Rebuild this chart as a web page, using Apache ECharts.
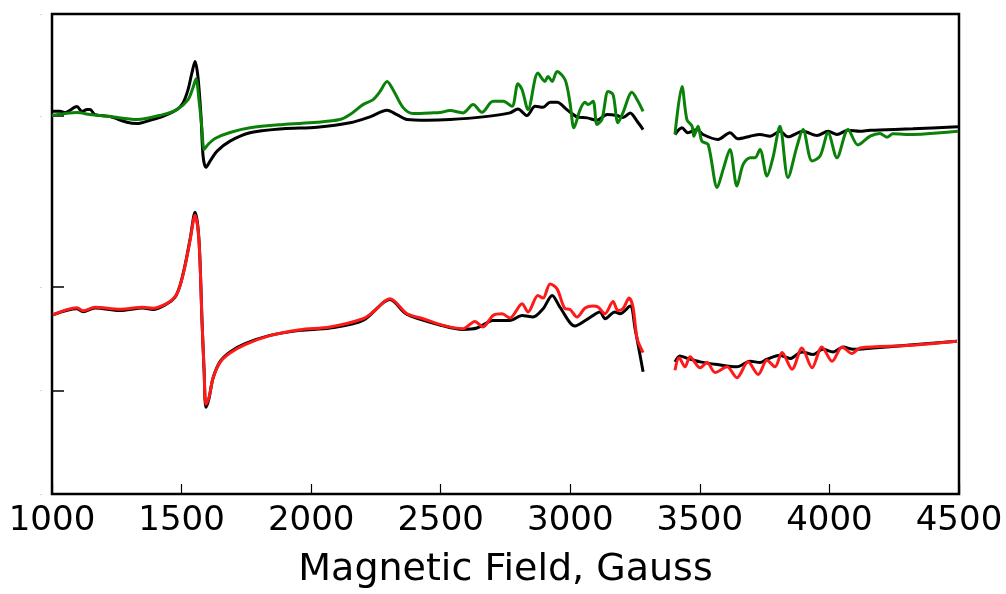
<!DOCTYPE html>
<html>
<head>
<meta charset="utf-8">
<script src="https://cdn.jsdelivr.net/npm/echarts@6/dist/echarts.min.js"></script>
<style>html,body{margin:0;padding:0;background:#fff}#c{width:1006px;height:594px}</style>
</head>
<body>
<div id="c"></div>
<script>
// X tick labels (Gauss)
const xTicks = [1000, 1500, 2000, 2500, 3000, 3500, 4000, 4500];
// Y tick positions (arbitrary intensity units, unlabeled in the original)
const yTicks = [0, 104, 208, 380, 482];

// Upper pair: black (reference) and green
const topBlack = [
[1000,384.3],[1031,384.3],[1050,383],[1096,389],[1116,384],[1135,386],[1147,386],[1166,381],[1224,379],[1289,373.3],[1328,372],[1378,375.3],[1428,379.3],[1482,386],[1506,393],[1525,406],[1540,423],[1552,434.3],[1563,419.3],[1575,379.3],[1583,339.3],[1594,328],[1610,334.3],[1637,344.3],[1687,354.3],[1764,362.7],[1891,366.7],[2023,368.3],[2150,372.7],[2227,378.7],[2293,385.3],[2331,381],[2370,376],[2447,375.3],[2536,376],[2663,378.7],[2767,382.7],[2798,386.7],[2833,380],[2864,389.3],[2895,388.3],[2922,393.3],[2949,393.3],[2987,386],[3026,378.7],[3065,377.7],[3103,375.3],[3142,381],[3180,380],[3203,378],[3231,382.7],[3258,374.3],[3281,366],
[3340,null],
[3404,361],[3431,367.7],[3454,362.7],[3489,366],[3512,361],[3570,356],[3616,362.7],[3647,356.7],[3694,359.3],[3732,361],[3771,359.3],[3809,364.3],[3840,358.7],[3898,364.3],[3952,360],[3995,364.3],[4029,361],[4072,365.3],[4118,364.3],[4157,365.3],[4322,366.7],[4496,368.7]
];
const topGreen = [
[1000,380],[1096,383],[1147,381],[1224,379],[1328,376],[1428,381],[1482,386],[1525,396],[1544,408],[1556,417],[1567,396],[1579,366],[1587,346],[1602,351],[1629,357],[1687,363],[1764,367.7],[1891,371],[2023,373.3],[2111,376],[2150,381],[2200,391],[2239,396],[2266,404.3],[2293,414.3],[2316,406],[2355,388],[2393,382],[2459,382.7],[2497,383],[2536,385],[2586,382.7],[2625,391],[2659,383.3],[2702,394.3],[2741,394.3],[2775,389.3],[2798,412],[2814,406],[2837,386],[2875,422.7],[2902,414.3],[2914,419.3],[2930,414.3],[2949,424.3],[2980,416],[2999,392.7],[3014,367.7],[3038,386],[3057,393.3],[3068,391],[3088,394.3],[3103,371],[3122,376],[3146,404.3],[3165,401],[3184,372.7],[3203,382.7],[3238,403.3],[3258,396],[3281,384.3],
[3340,null],
[3404,361],[3431,409.3],[3450,376],[3470,369.3],[3477,359.3],[3493,369.3],[3508,354.3],[3532,351],[3567,307.7],[3590,326],[3616,346],[3643,309.3],[3667,331],[3694,337.7],[3713,337.7],[3732,346],[3759,319.3],[3782,337.7],[3809,369.3],[3840,317.7],[3875,349.3],[3898,366],[3933,334.3],[3964,339.3],[3995,362.7],[4029,337.7],[4072,366],[4110,350.5],[4157,359.3],[4195,362],[4222,358.3],[4245,361.7],[4322,361],[4427,362.7],[4496,364.3]
];

// Lower pair: black (reference) and red
const bottomBlack = [
[1004,180],[1096,186],[1120,183],[1166,186.7],[1262,184.3],[1351,186.7],[1390,185.3],[1444,191],[1475,197.7],[1494,209.3],[1513,229.3],[1533,256],[1552,283],[1567,256],[1579,173],[1587,123],[1594,87],[1606,96],[1621,116],[1648,132.7],[1687,142.7],[1745,151],[1841,159.3],[1957,164.3],[2073,166.7],[2200,174.3],[2304,195.3],[2370,180.3],[2509,169],[2586,165.3],[2640,166.7],[2702,174.3],[2767,174.3],[2814,179.3],[2856,177.7],[2895,186],[2930,199.3],[2960,187.7],[3018,168.7],[3065,175.3],[3115,182.7],[3134,176],[3172,182.7],[3192,181],[3231,188.7],[3250,166],[3281,122.7],
[3340,null],
[3404,132.7],[3423,138.7],[3454,136],[3501,132.7],[3567,130],[3643,127.7],[3694,133.3],[3732,132],[3759,135.3],[3809,139.3],[3848,136],[3894,142.7],[3937,140],[3975,145.3],[4014,142.7],[4053,147.7],[4091,145.3],[4168,146.7],[4299,149.3],[4492,153.3]
];
const bottomRed = [
[1004,180],[1096,187],[1120,184],[1166,187.5],[1262,185.5],[1351,187.5],[1390,186.5],[1444,191.5],[1475,198],[1494,209],[1513,228.5],[1533,255],[1552,280],[1567,255],[1579,173],[1587,124],[1594,90],[1606,97],[1621,116],[1648,132],[1687,141.5],[1745,150],[1841,159],[1957,165],[2073,167.7],[2200,176],[2239,182.7],[2304,196],[2370,181],[2432,176],[2509,169.3],[2586,166],[2632,173.3],[2663,167.7],[2702,179.3],[2737,181],[2767,176.7],[2814,191],[2837,182.7],[2875,199.3],[2895,196.7],[2922,211],[2949,206],[2980,186],[2999,185.3],[3026,177.7],[3057,186.7],[3088,188.7],[3107,187.7],[3134,181],[3165,193.3],[3184,184.3],[3203,186],[3227,196.7],[3242,187.7],[3258,156],[3281,142],
[3340,null],
[3404,124.3],[3420,136.7],[3443,127.7],[3462,137.7],[3501,126.7],[3528,132],[3559,122],[3605,127.7],[3643,116.7],[3686,132.7],[3725,120],[3759,134.3],[3790,127.7],[3817,142],[3856,125.3],[3894,146.7],[3933,126.7],[3971,147.7],[4010,133.3],[4049,147.7],[4087,141],[4118,146.7],[4299,149],[4492,153.3]
];

const chart = echarts.init(document.getElementById('c'), null, {renderer: 'canvas'});
const font = 'DejaVu Sans';
function line(name, data, color, z) {
  return {
    name: name, type: 'line', data: data, showSymbol: false, symbol: 'none',
    smooth: 0.3, connectNulls: false, z: z, animation: false,
    lineStyle: {color: color, width: 3}
  };
}
chart.setOption({
  animation: false,
  backgroundColor: '#ffffff',
  grid: {left: 52, right: 47, top: 14, bottom: 98, show: true, borderColor: '#000', borderWidth: 2.5, backgroundColor: 'transparent'},
  xAxis: {
    type: 'value', min: 1000, max: 4500, interval: 500,
    name: 'Magnetic Field, Gauss', nameLocation: 'middle', nameGap: 57,
    nameTextStyle: {fontFamily: font, fontSize: 38, color: '#000'},
    axisLine: {show: false},
    axisTick: {show: true, inside: true, length: 10, lineStyle: {color: '#000', width: 1.2}},
    axisLabel: {fontFamily: font, fontSize: 34, color: '#000', margin: 10,
      customValues: xTicks, formatter: v => String(v)},
    splitLine: {show: false}
  },
  yAxis: {
    type: 'value', min: 0, max: 482,
    axisLine: {show: false},
    axisTick: {show: true, inside: true, length: 12, customValues: yTicks, lineStyle: {color: '#000', width: 1.5}},
    axisLabel: {show: true, customValues: yTicks, formatter: () => '-', fontSize: 7, color: '#aaa', margin: 10},
    splitLine: {show: false}
  },
  series: [
    line('top-black', topBlack, '#000000', 2),
    line('top-green', topGreen, '#0a820a', 3),
    line('bottom-black', bottomBlack, '#000000', 2),
    line('bottom-red', bottomRed, '#ff1a1a', 3)
  ]
});
</script>
</body>
</html>
